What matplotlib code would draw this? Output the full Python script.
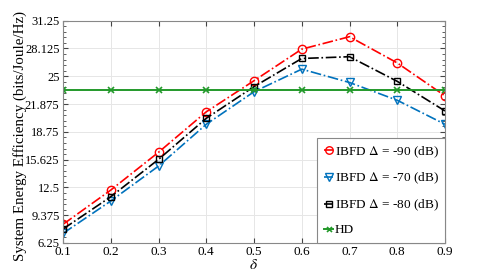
import matplotlib
matplotlib.use("Agg")
import matplotlib.pyplot as plt
from matplotlib.ticker import AutoMinorLocator

delta = [0.1, 0.2, 0.3, 0.4, 0.5, 0.6, 0.7, 0.8, 0.9]
ibfd_90 = [8.35, 12.2, 16.45, 21.0, 24.5, 28.05, 29.45, 26.5, 22.8]
ibfd_70 = [7.33, 10.97, 14.9, 19.6, 23.26, 25.8, 24.3, 22.3, 19.6]
ibfd_80 = [7.82, 11.45, 15.65, 20.27, 23.83, 27.0, 27.2, 24.43, 21.1]
hd = [23.45] * 9
yticks = [6.25, 9.375, 12.5, 15.625, 18.75, 21.875, 25, 28.125, 31.25]
ytick_labels = ["6.25", "9.375", "12.5", "15.625", "18.75", "21.875", "25", "28.125", "31.25"]

plt.rcParams['font.family'] = ['Liberation Serif', 'DejaVu Serif']
plt.rcParams['mathtext.fontset'] = 'stix'

fig = plt.figure(figsize=(4.91, 2.73), dpi=100)
ax = fig.add_axes([63/491, 1-243/273, (445-63)/491, (243-20.7)/273])

ax.plot(delta, ibfd_90, '-.', color='red', marker='o', mfc='none', ms=6, lw=1.2,
        label='IBFD $\\Delta$ = -90 (dB)')
ax.plot(delta, ibfd_70, '-.', color='#0072BD', marker='v', mfc='none', ms=6, lw=1.2,
        label='IBFD $\\Delta$ = -70 (dB)')
ax.plot(delta, ibfd_80, '-.', color='black', marker='s', mfc='none', ms=5, lw=1.2,
        label='IBFD $\\Delta$ = -80 (dB)')
ax.plot(delta, hd, '-', color='#22992a', marker='x', ms=4, lw=1.4, mew=1.2, label='HD')

ax.set_xlim(0.1, 0.9)
ax.set_ylim(6.25, 31.25)
ax.set_xticks(delta)
ax.set_xticklabels([f"{d:.1f}" for d in delta])
ax.set_yticks(yticks)
ax.set_yticklabels(ytick_labels)
ax.yaxis.set_minor_locator(AutoMinorLocator(5))
ax.tick_params(axis='both', which='both', direction='in', labelsize=9.5, top=True, right=True,
               color='#444444', pad=2.5)
ax.tick_params(axis='y', labelsize=9)
ax.tick_params(axis='x', which='minor', bottom=False, top=False)
ax.grid(True, color='#e6e6e6', lw=0.7)
for s in ax.spines.values():
    s.set_color('#888888')
    s.set_linewidth(0.8)

ax.set_xlabel('$\\delta$', fontsize=11, labelpad=0)
ax.set_ylabel('System Energy Efficiency (bits/Joule/Hz)', fontsize=10.8)
ax.yaxis.set_label_coords(-0.094, 0.48)

leg = ax.legend(loc='lower right', fontsize=9.5, handlelength=0.7, handletextpad=0.1,
                borderpad=0.5, labelspacing=0.85, fancybox=False, framealpha=1,
                edgecolor='#888888', borderaxespad=0, markerscale=0.9)
leg.get_frame().set_linewidth(0.8)

fig.savefig('out.png', dpi=100)
